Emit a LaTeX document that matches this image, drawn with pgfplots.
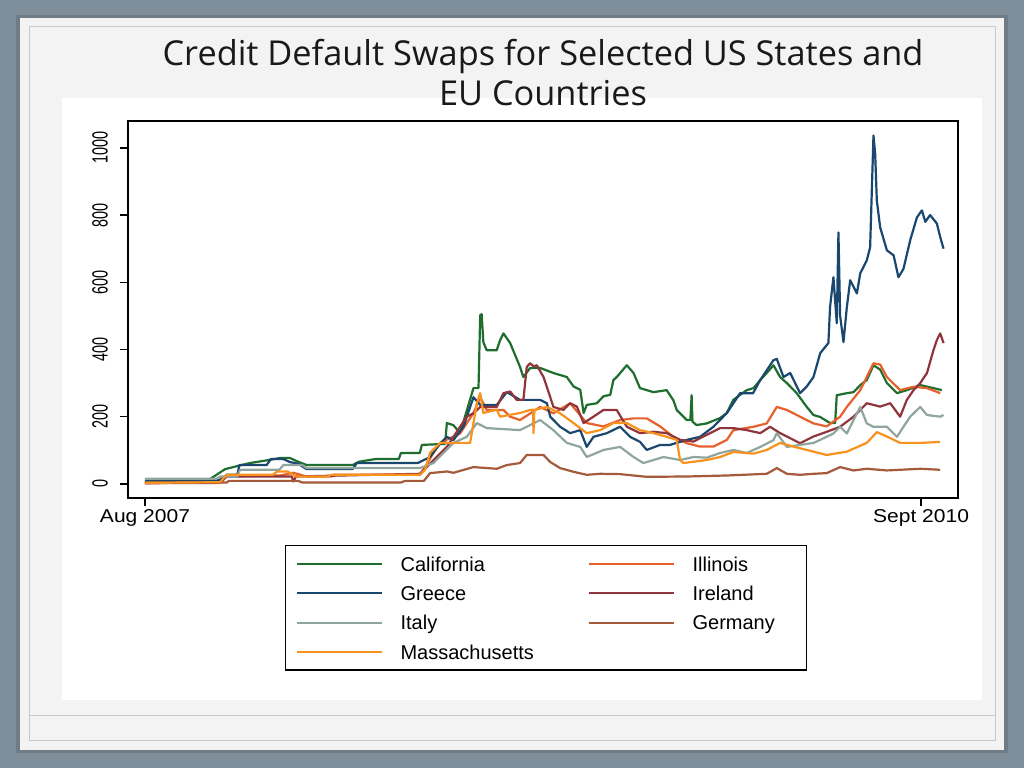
\documentclass[border=0pt]{standalone}
\usepackage{graphicx}
\usepackage{fontspec}
\setmainfont{Liberation Sans}
\newfontfamily\titlefont{Open Sans}
\usepackage{pgfplots}
\pgfplotsset{compat=1.18}

\definecolor{bgblue}{RGB}{126,142,154}
\definecolor{slide}{RGB}{243,243,243}
\definecolor{rim}{RGB}{200,200,200}
\definecolor{cal}{RGB}{30,110,45}
\definecolor{gre}{RGB}{26,71,111}
\definecolor{ita}{RGB}{144,165,158}
\definecolor{mas}{RGB}{247,146,30}
\definecolor{ill}{RGB}{232,96,44}
\definecolor{ire}{RGB}{144,53,59}
\definecolor{ger}{RGB}{165,90,60}

\newcommand{\ylab}[1]{\scalebox{0.72}[1.1]{\fontsize{20}{22}\selectfont #1}}

\begin{document}
\begin{tikzpicture}
\useasboundingbox (0pt,0pt) rectangle (1024pt,768pt);
% slide background
\fill[bgblue] (0pt,0pt) rectangle (1024pt,768pt);
\fill[bgblue!75!black, opacity=0.5] (16pt,15pt) rectangle (1008pt,753pt);
\fill[slide] (20pt,18pt) rectangle (1004pt,750pt);
\draw[rim, line width=1pt] (29pt,28pt) rectangle (995pt,741pt);
\draw[rim, line width=1pt] (29pt,53pt) -- (995pt,53pt);
\fill[white] (62pt,68pt) rectangle (982pt,670pt);

\begin{axis}[
    at={(128pt,270pt)}, anchor=south west,
    scale only axis, width=830pt, height=377pt,
    xmin=-0.81, xmax=38.76,
    ymin=-42, ymax=1080,
    axis line style={line width=1.6pt},
    tick pos=left, tick align=outside,
    major tick length=8pt,
    tick style={line width=1.4pt, black},
    xtick={0,37},
    xticklabels={\scalebox{1.13}[1]{Aug 2007}, \scalebox{1.13}[1]{Sept 2010}},
    xticklabel style={font=\fontsize{18.6}{20}\selectfont},
    ytick={0,200,...,1000},
    yticklabels={\ylab{0}, \ylab{200}, \ylab{400}, \ylab{600}, \ylab{800}, \ylab{1000}},
    yticklabel style={xshift=-9pt, rotate=90, anchor=south, inner sep=3pt},
    every axis plot/.append style={line width=2.2pt, line join=round},
    legend columns=2,
    legend image code/.code={\draw[#1, line width=2pt] (0pt,0pt) -- (85pt,0pt);},
    legend style={
        at={(axis description cs:0.189,-0.1247)}, anchor=north west,
        draw=black, line width=1.4pt,
        inner xsep=10pt, inner ysep=11pt,
        column sep=18pt, row sep=14.8pt,
        font=\fontsize{20}{24}\selectfont,
        nodes={inner sep=0pt, text height=14.5pt, text depth=0pt},
    },
]
% California
\addplot[cal] coordinates {
(0,5) (1.5,8) (3.0,10) (3.82,44) (4.53,55) (5.00,62) (5.80,70) (6.44,77) (6.91,77)
(7.30,66) (7.71,56) (9.90,56) (10.20,66) (11.00,74) (12.10,74) (12.20,92) (13.10,92)
(13.20,116) (14.31,119)
(14.39,181) (14.70,175) (15.02,151) (15.66,285) (15.90,285) (15.98,502) (16.05,505)
(16.13,422) (16.29,398) (16.77,398) (16.93,428) (17.09,448) (17.41,419) (17.88,348)
(18.04,318) (18.36,345) (18.84,345) (19.47,330) (20.11,318) (20.43,290) (20.75,280)
(20.91,211) (21.06,235) (21.54,240) (21.86,261) (22.18,265) (22.33,309) (22.49,318)
(22.97,353) (23.29,330) (23.60,285) (24.24,273) (24.87,279) (25.19,249) (25.35,220)
(25.83,190) (26.00,190) (26.06,264) (26.10,185) (26.30,175) (26.78,180) (27.42,196)
(27.74,211) (28.05,250) (28.37,265) (28.69,279) (29.01,285) (29.33,309) (29.64,330)
(29.96,353) (30.28,318) (30.60,300) (31.07,270) (31.55,229) (31.87,205) (32.19,199)
(32.66,181) (32.90,181) (32.98,264) (33.46,270) (33.78,273) (34.10,294) (34.41,309)
(34.73,353) (35.05,340) (35.37,300) (35.85,270) (36.32,279) (36.96,294) (37.59,285)
(37.99,279)
};
\addlegendentry{\makebox[169pt][l]{California}}
% Illinois
\addplot[ill] coordinates {
(0,2) (3.58,5) (3.89,22) (6.44,25) (7.07,33) (7.71,22) (8.90,22) (9.00,27) (13.11,27) (13.35,50)
(13.75,92) (14.07,122) (15.02,150) (15.66,211) (15.98,258) (16.13,240) (16.29,220)
(17.09,220) (17.41,200) (17.88,190) (18.84,229) (19.47,210) (20.27,240) (21.06,181)
(21.86,171) (22.65,190) (23.29,195) (23.92,195) (24.56,171) (25.19,140) (25.83,121)
(26.46,111) (27.10,111) (27.74,131) (28.05,160) (29.01,170) (29.64,180) (30.12,229)
(30.60,220) (31.23,200) (31.87,180) (32.50,171) (33.14,200) (33.46,229) (34.10,279)
(34.73,359) (35.05,355) (35.37,318) (36.00,279) (36.64,289) (37.28,285) (37.91,270)
};
\addlegendentry{\makebox[104pt][l]{Illinois}}
% Greece
\addplot[gre] coordinates {
(0,12) (1,10) (2,12) (3.58,12) (3.90,27) (4.40,27) (4.50,56) (5.80,56) (6.00,74)
(6.60,74) (6.90,65) (7.30,60) (7.70,44) (9.90,44) (10.10,62) (13.00,62)
(13.59,80) (14.07,120) (14.39,140) (14.70,130)
(15.18,170) (15.66,258) (15.98,235) (16.77,235) (17.25,273) (17.88,250) (18.84,250)
(19.16,240) (19.32,200) (19.79,170) (20.27,151) (20.75,160) (21.06,110) (21.38,140)
(22.02,151) (22.65,170) (23.13,140) (23.60,125) (23.92,101) (24.56,116) (25.03,116)
(25.83,131) (26.46,140) (27.10,170) (27.74,211) (28.37,270) (28.99,270) (29.33,309)
(29.96,368) (30.12,372) (30.44,318) (30.76,330) (31.23,270) (31.55,290) (31.87,318)
(32.19,389) (32.58,419) (32.66,526) (32.82,615) (32.98,478) (33.06,748) (33.14,500)
(33.30,422) (33.46,526) (33.62,606) (33.94,567) (34.10,627) (34.41,665) (34.57,704)
(34.73,1037) (34.81,983) (34.89,843) (35.05,763) (35.37,695) (35.69,680) (35.92,615)
(36.16,640) (36.48,725) (36.80,793) (37.04,814) (37.20,780) (37.43,800) (37.75,775)
(37.91,735) (38.07,700)
};
\addlegendentry{\makebox[169pt][l]{Greece}}
% Ireland
\addplot[ire] coordinates {
(0,2) (3.58,3) (3.89,22) (6.44,22) (7.00,22) (7.07,7) (7.20,22) (13.11,30)
(13.59,60) (14.39,110) (15.34,200) (15.66,210) (15.98,229) (16.77,229) (17.09,270)
(17.41,275) (17.72,250) (18.04,250) (18.20,348) (18.36,359) (18.52,350) (18.68,353)
(19.00,318) (19.32,258) (19.47,229) (19.95,220) (20.27,240) (20.59,230) (20.91,181)
(21.38,200) (21.86,220) (22.49,220) (22.97,170) (23.60,151) (24.24,155) (24.87,151)
(25.51,131) (26.15,126) (26.78,146) (27.42,166) (28.05,166) (28.69,160) (29.33,151)
(29.80,170) (30.28,151) (30.60,141) (31.23,121) (31.87,141) (32.50,155) (33.14,170)
(33.78,200) (34.10,220) (34.41,240) (35.05,230) (35.53,240) (36.00,200) (36.32,250)
(36.64,279) (36.96,300) (37.28,330) (37.59,398) (37.75,428) (37.91,448) (38.07,419)
};
\addlegendentry{\makebox[104pt][l]{Ireland}}
% Italy
\addplot[ita] coordinates {
(0,15) (3.40,15) (3.60,22) (4.40,22) (4.53,42) (6.40,42) (6.60,56) (7.50,56) (7.71,47)
(13.11,47) (13.75,62) (14.70,122) (15.34,140) (15.82,181) (16.29,166) (17.88,160)
(18.84,190) (19.47,160) (20.11,122) (20.75,110) (21.06,80) (21.86,101) (22.65,110)
(23.29,80) (23.76,62) (24.24,71) (24.72,80) (25.51,71) (26.15,80) (26.78,78)
(27.42,92) (28.05,101) (28.69,92) (29.33,110) (29.96,130) (30.12,151) (30.60,110)
(31.23,116) (31.87,122) (32.19,131) (32.82,150) (33.14,170) (33.46,150) (33.78,190)
(34.10,229) (34.41,180) (34.73,170) (35.37,170) (35.85,140) (36.16,170) (36.48,200)
(36.96,229) (37.28,205) (37.91,200) (38.07,205)
};
\addlegendentry{\makebox[169pt][l]{Italy}}
% Germany
\addplot[ger] coordinates {
(0,4) (3.9,4) (4.0,9) (7.3,9) (7.5,4) (12.2,4) (12.4,9) (13.3,9) (13.59,32) (14.40,37)
(14.70,33) (15.66,50) (16.77,45) (17.25,56)
(17.88,62) (18.20,86) (19.00,86) (19.32,65) (19.79,47) (20.43,36) (21.06,27)
(21.70,30) (22.65,29) (23.92,21) (25.83,22) (27.74,25) (29.64,30) (30.12,47)
(30.60,30) (31.23,27) (31.87,30) (32.50,32) (33.14,50) (33.78,40) (34.41,45)
(35.37,40) (36.96,45) (37.91,42)
};
\addlegendentry{\makebox[104pt][l]{Germany}}
% Massachusetts
\addplot[mas] coordinates {
(0,3) (3.58,5) (3.89,27) (6.10,27) (6.30,37) (6.80,37) (7.20,22) (8.70,22) (8.90,27) (13.11,27) (13.35,42)
(13.59,92) (14.07,122) (15.50,122) (15.82,240) (15.98,270) (16.13,211) (16.77,221)
(16.93,200) (17.88,211) (18.36,220) (18.50,221) (18.52,151) (18.56,220) (19.16,229)
(19.79,210) (20.43,181) (21.06,151) (21.70,160) (22.33,181) (22.97,181) (23.60,160)
(24.24,151) (24.87,140) (25.35,131) (25.51,71) (25.67,62) (26.78,71) (27.42,80)
(28.05,95) (29.01,90) (29.64,101) (30.28,122) (30.91,111) (31.87,96) (32.50,86)
(33.46,96) (34.41,122) (34.89,154) (35.37,141) (36.00,122) (37.00,122) (37.91,125)
};
\addlegendentry{\makebox[169pt][l]{Massachusetts}}
\end{axis}

\node[anchor=base, font=\titlefont\fontsize{34.3}{40}\selectfont, text=black!90] at (543pt,702pt)
    {Credit Default Swaps for Selected US States and};
\node[anchor=base, font=\titlefont\fontsize{34.3}{40}\selectfont, text=black!90] at (543pt,662pt)
    {EU Countries};
\end{tikzpicture}
\end{document}
